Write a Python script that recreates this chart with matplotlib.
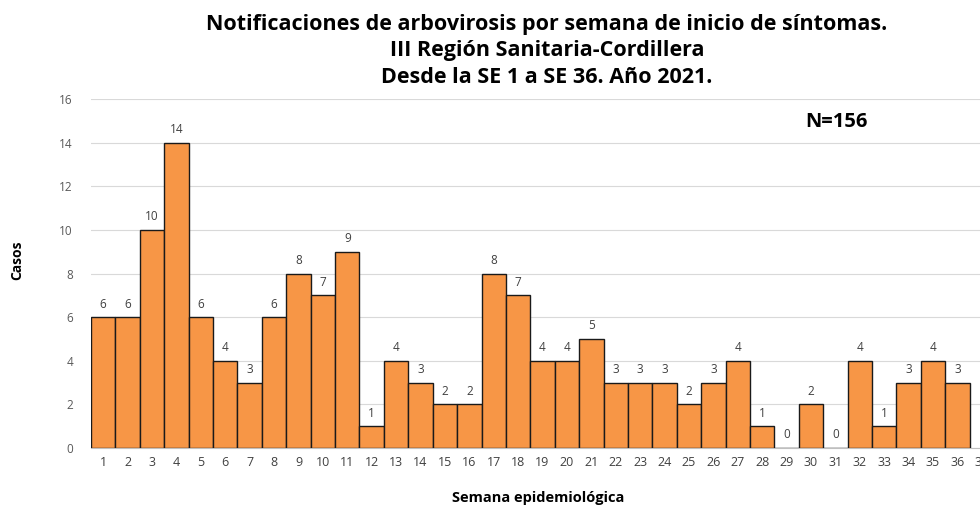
import matplotlib
matplotlib.use("Agg")
import matplotlib.pyplot as plt

plt.rcParams['font.family'] = ['Open Sans', 'DejaVu Sans']

weeks = list(range(1, 38))
cases = [6, 6, 10, 14, 6, 4, 3, 6, 8, 7, 9, 1, 4, 3, 2, 2, 8, 7, 4, 4, 5,
         3, 3, 3, 2, 3, 4, 1, 0, 2, 0, 4, 1, 3, 4, 3]
title_lines = ["Notificaciones de arbovirosis por semana de inicio de síntomas.",
               "III Región Sanitaria-Cordillera",
               "Desde la SE 1 a SE 36. Año 2021."]
yticks = [0, 2, 4, 6, 8, 10, 12, 14, 16]

fig = plt.figure(figsize=(9.8, 5.09), dpi=100)
ax = fig.add_axes([0.0929, 0.1198, 0.9214, 0.6857])

x = [w - 1 for w in weeks[:len(cases)]]
ax.bar(x, cases, width=1.0, color='#F79646', edgecolor='#1a1a1a', linewidth=1.0, zorder=3)
for xi, c in zip(x, cases):
    ax.text(xi, c + 0.3, str(c), ha='center', va='bottom', fontsize=8.5, color='#404040')

ax.set_xlim(-0.5, len(weeks) - 0.5)
ax.set_ylim(0, 16)
ax.set_yticks(yticks)
ax.set_xticks([w - 1 for w in weeks])
ax.set_xticklabels([str(w) for w in weeks])
ax.tick_params(axis='y', length=0, labelsize=8.5, labelcolor='#595959', pad=13)
ax.tick_params(axis='x', length=0, labelsize=9, labelcolor='#404040', pad=6)
ax.grid(axis='y', color='#d9d9d9', linewidth=0.8, zorder=0)
for s in ['top', 'right', 'left']:
    ax.spines[s].set_visible(False)
ax.spines['bottom'].set_color('#bfbfbf')

fig.text(0.558, 0.951, title_lines[0], ha='center', va='center', fontsize=15.5, fontweight='bold')
fig.text(0.558, 0.900, title_lines[1], ha='center', va='center', fontsize=15.5, fontweight='bold')
fig.text(0.558, 0.848, title_lines[2], ha='center', va='center', fontsize=15.5, fontweight='bold')

fig.text(0.853, 0.760, "N=156", ha='center', va='center', fontsize=14.5, fontweight='bold')
fig.text(0.018, 0.488, "Casos", ha='center', va='center', rotation=90, fontsize=10, fontweight='bold')
fig.text(0.549, 0.008, "Semana epidemiológica", ha='center', va='bottom', fontsize=10.5, fontweight='bold')

fig.savefig("out.png", dpi=100)
